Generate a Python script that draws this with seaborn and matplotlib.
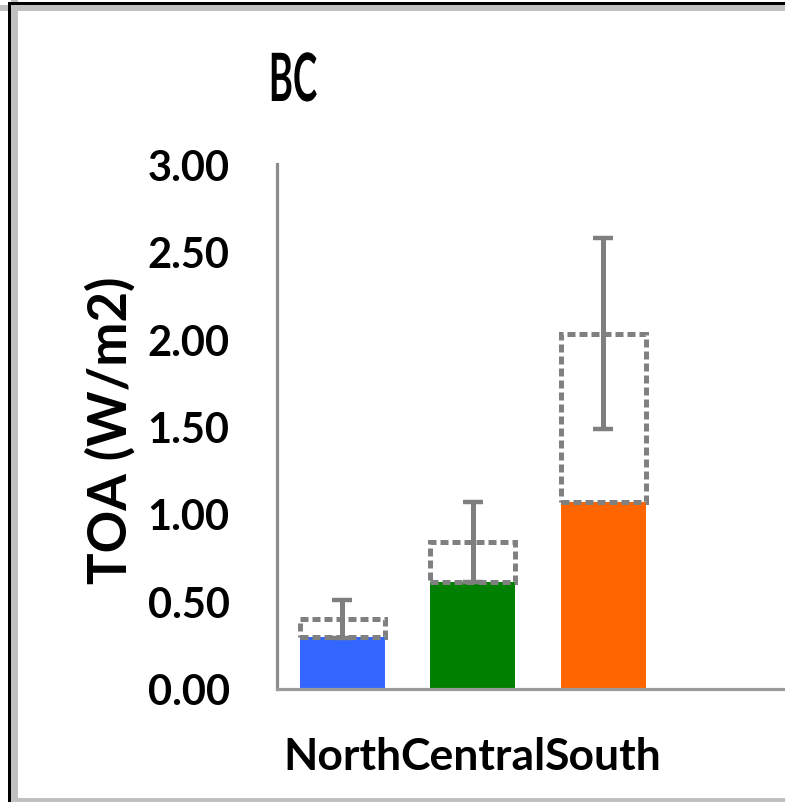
import matplotlib
matplotlib.use("Agg")
import matplotlib.pyplot as plt
import seaborn as sns
import pandas as pd
import numpy as np
from matplotlib.patches import Rectangle
from matplotlib.patheffects import AbstractPathEffect
from matplotlib.transforms import Affine2D

# ---- data ----
categories = ["North", "Central", "South"]
solid_values = [0.30, 0.61, 1.07]      # coloured bars
total_values = [0.40, 0.84, 2.03]      # top of dashed boxes
error_values = [0.11, 0.23, 0.545]     # symmetric error about total
bar_colors = ["#3366FF", "#008000", "#FF6600"]
y_ticks = [0.0, 0.5, 1.0, 1.5, 2.0, 2.5, 3.0]
title_text = "BC"
ylabel_text = "TOA (W/m2)"

sns.set_theme(style="white")
plt.rcParams["font.family"] = ["Lato", "DejaVu Sans"]

W, H = 785, 803
fig = plt.figure(figsize=(W / 100, H / 100), dpi=100)
ax = fig.add_axes([277 / W, 113 / H, 1 - 277 / W, 525 / H])

df = pd.DataFrame({"region": categories, "solid": solid_values})
sns.barplot(data=df, x="region", y="solid", hue="region", palette=bar_colors,
            order=categories, hue_order=categories, legend=False,
            width=0.65, saturation=1, ax=ax, edgecolor="none", linewidth=0)

xpos = np.arange(len(categories))
inc = np.array(total_values) - np.array(solid_values)
ax.bar(xpos, inc, bottom=solid_values, width=0.65, facecolor="none",
       edgecolor="#808080", linewidth=3.6, linestyle=(0, (1.6, 0.8)), zorder=3)
ax.errorbar(xpos, total_values, yerr=error_values, fmt="none",
            ecolor="#7f7f7f", elinewidth=3.6, capsize=7, capthick=3.2, zorder=4)

ax.set_xlim(-0.5, -0.5 + 508 / 130.5)
ax.set_ylim(0, 3)
ax.set_yticks(y_ticks)
ax.set_yticklabels([f"{v:.2f}" for v in y_ticks])
ax.set_xlabel("")
ax.set_ylabel("")
ax.tick_params(axis="y", length=0, labelsize=30, colors="#000000", pad=34)
ax.tick_params(axis="x", length=0, labelsize=32, colors="#000000", pad=34)
for lab in ax.get_xticklabels() + ax.get_yticklabels():
    lab.set_fontweight("bold")

for s in ["top", "right"]:
    ax.spines[s].set_visible(False)
ax.spines["left"].set_color("#8c8c8c")
ax.spines["left"].set_linewidth(2.3)
ax.spines["bottom"].set_color("#9a9a9a")
ax.spines["bottom"].set_linewidth(2.3)


class HSqueeze(AbstractPathEffect):
    """Narrow the glyphs horizontally about a fixed centre (condensed look)."""
    def __init__(self, sx, cx):
        super().__init__()
        self.sx = sx
        self.cx = cx

    def draw_path(self, renderer, gc, tpath, affine, rgbFace=None):
        t = affine + Affine2D().translate(-self.cx, 0).scale(self.sx, 1).translate(self.cx, 0)
        renderer.draw_path(gc, tpath, t, rgbFace)


title_cx = 293
fig.text(title_cx / W, 1 - 83 / H, title_text, ha="center", va="center",
         fontsize=48, fontweight="bold", color="#000000",
         path_effects=[HSqueeze(0.55, title_cx)])
fig.text(110 / W, 1 - 430 / H, ylabel_text, ha="center", va="center",
         rotation=90, fontsize=38, fontweight="bold", color="#000000")

# outer frame (cropped chart border)
fig.patches.append(Rectangle((11 / W, 0), 7 / W, 1, transform=fig.transFigure,
                             facecolor="#c0c0c0", edgecolor="none"))
fig.patches.append(Rectangle((0, 1 - 12 / H), 1, 6 / H, transform=fig.transFigure,
                             facecolor="#c0c0c0", edgecolor="none"))
fig.patches.append(Rectangle((13 / W, 0), 1, 4 / H, transform=fig.transFigure,
                             facecolor="#c0c0c0", edgecolor="none"))
fig.patches.append(Rectangle((8 / W, 0), 3 / W, 1 - 3 / H, transform=fig.transFigure,
                             facecolor="black", edgecolor="none"))
fig.patches.append(Rectangle((8 / W, 1 - 6 / H), 1, 3 / H, transform=fig.transFigure,
                             facecolor="black", edgecolor="none"))

fig.savefig("out.png", dpi=100)
